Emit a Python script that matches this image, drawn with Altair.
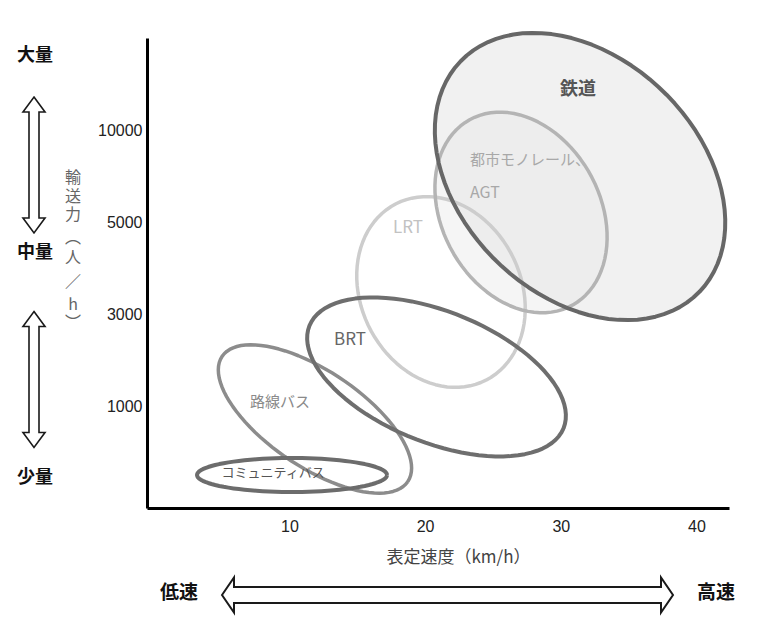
import altair as alt
import pandas as pd

# ---------------- data ----------------
modes = ["鉄道", "都市モノレール、AGT", "LRT", "BRT", "路線バス", "コミュニティバス"]
center_speed = [31.42, 27.07, 21.17, 20.84, 11.88, 10.19]      # km/h
center_level = [3.497, 3.107, 2.244, 1.322, 0.866, 0.258]      # capacity level (1=1000 ... 4=10000)
semi_major_px = [166, 106, 99, 137, 112, 95]
semi_minor_px = [119, 79, 80, 65.5, 48, 17]
tilt_deg = [44, 61, 63, 22, 34, 0]

cap_levels = [1, 2, 3, 4]
cap_labels = ["1000", "3000", "5000", "10000"]
speed_ticks = [10, 20, 30, 40]

label_texts = ["鉄道", "都市モノレール、", "AGT", "LRT", "BRT", "路線バス", "コミュニティバス"]
label_speed = [31.27, 23.31, 23.31, 18.74, 14.46, 9.30, 8.79]
label_level = [4.436, 3.676, 3.318, 2.938, 1.723, 1.05, 0.28]

y_title_chars = ["輸", "送", "力", "︵", "人", "／", "h", "︶"]

# ---------------- styles ----------------
X_DOMAIN = [-0.5, 42.4]
Y_DOMAIN = [-0.1, 5.0]
W, H = 582, 470
KX = W / (X_DOMAIN[1] - X_DOMAIN[0])
KY = H / (Y_DOMAIN[1] - Y_DOMAIN[0])

stroke_col = {"鉄道": "#676767", "都市モノレール、AGT": "#b4b4b4", "LRT": "#cdcdcd",
              "BRT": "#6e6e6e", "路線バス": "#8c8c8c", "コミュニティバス": "#6c6c6c"}
stroke_w = {"鉄道": 4, "都市モノレール、AGT": 3.5, "LRT": 3.5, "BRT": 4, "路線バス": 3.5, "コミュニティバス": 4}
fill_col = {"鉄道": "#f1f1f1", "都市モノレール、AGT": "#e9e9e9"}
fill_op = {"鉄道": 1, "都市モノレール、AGT": 0.45}
stroke_order = ["LRT", "都市モノレール、AGT", "路線バス", "コミュニティバス", "BRT", "鉄道"]

label_style = {
    "鉄道": dict(color="#555555", fontSize=18, fontWeight="bold", align="center"),
    "都市モノレール、": dict(color="#a8a8a8", fontSize=15, fontWeight="normal", align="left"),
    "AGT": dict(color="#a8a8a8", fontSize=16, fontWeight="normal", align="left"),
    "LRT": dict(color="#c2c2c2", fontSize=17, fontWeight="normal", align="center"),
    "BRT": dict(color="#666666", fontSize=17, fontWeight="normal", align="center"),
    "路線バス": dict(color="#8a8a8a", fontSize=15, fontWeight="normal", align="center"),
    "コミュニティバス": dict(color="#555555", fontSize=13, fontWeight="normal", align="center"),
}
y_title_pos = [139.5, 158.5, 177, 199.5, 219.5, 244, 267, 284.5]

JP = "Noto Sans CJK JP"

# ---------------- ellipse outlines ----------------
rows = []
for i, m in enumerate(modes):
    for t in range(0, 361, 4):
        rows.append(dict(name=m, cx=center_speed[i], cy=center_level[i],
                         a=semi_major_px[i], b=semi_minor_px[i], ang=tilt_deg[i], t=t))
ell_df = pd.DataFrame(rows)

base = alt.Chart(ell_df).transform_calculate(
    rad="datum.t*PI/180", th="datum.ang*PI/180"
).transform_calculate(
    speed=f"datum.cx + (datum.a*cos(datum.rad)*cos(datum.th) - datum.b*sin(datum.rad)*sin(datum.th))/{KX}",
    level=f"datum.cy - (datum.a*cos(datum.rad)*sin(datum.th) + datum.b*sin(datum.rad)*cos(datum.th))/{KY}",
)

label_expr = " : ".join(
    [f"datum.value == {lv} ? '{lb}'" for lv, lb in zip(cap_levels, cap_labels)]
) + " : ''"

x_enc = alt.X("speed:Q", scale=alt.Scale(domain=X_DOMAIN, nice=False, zero=False),
              axis=alt.Axis(values=speed_ticks, title="表定速度（km/h）", labelPadding=10,
                            titleX=311, titleY=49, titleAlign="center", titleBaseline="middle",
                            titleFont=JP, titleFontSize=17, titleFontWeight="normal", titleColor="#444444"))
y_enc = alt.Y("level:Q", scale=alt.Scale(domain=Y_DOMAIN, nice=False, zero=False),
              axis=alt.Axis(values=cap_levels, labelExpr=label_expr, title="", labelPadding=5))

layers = []
for m in ["鉄道", "都市モノレール、AGT"]:
    layers.append(base.transform_filter(alt.datum.name == m).mark_line(
        fill=fill_col[m], fillOpacity=fill_op[m], strokeOpacity=0, strokeWidth=0
    ).encode(x=x_enc, y=y_enc, order="t:Q"))
for m in stroke_order:
    layers.append(base.transform_filter(alt.datum.name == m).mark_line(
        stroke=stroke_col[m], strokeWidth=stroke_w[m], strokeJoin="round"
    ).encode(x=x_enc, y=y_enc, order="t:Q"))

lab_df = pd.DataFrame({"text": label_texts, "speed": label_speed, "level": label_level})
for txt in label_texts:
    st = label_style[txt]
    layers.append(alt.Chart(lab_df).transform_filter(alt.datum.text == txt).mark_text(
        font=JP, baseline="middle", **st
    ).encode(x=x_enc, y=y_enc, text="text:N"))

# ---------------- annotations outside the plot ----------------
one = pd.DataFrame({"k": [0]})


def ann_text(s, x, y, size, color="#111111", weight="bold"):
    return alt.Chart(one).mark_text(font=JP, fontSize=size, fontWeight=weight, color=color,
                                    baseline="middle", align="center").encode(
        x=alt.value(x), y=alt.value(y), text=alt.value(s))


layers += [
    ann_text("大量", -112, 18, 18),
    ann_text("中量", -112, 215, 18),
    ann_text("少量", -112, 440, 18),
    ann_text("低速", 32, 555, 19),
    ann_text("高速", 569, 555, 19),
]
for ch, yy in zip(y_title_chars, y_title_pos):
    layers.append(ann_text(ch, -74, yy, 16, color="#666666", weight="normal"))

h_arrow = ("M -1 0 L -0.9468 -0.0776 L -0.9468 -0.0355 L 0.9468 -0.0355 L 0.9468 -0.0776 "
           "L 1 0 L 0.9468 0.0776 L 0.9468 0.0355 L -0.9468 0.0355 L -0.9468 0.0776 Z")
v_arrow = ("M 0 -1 L 0.162 -0.78 L 0.0735 -0.78 L 0.0735 0.78 L 0.162 0.78 L 0 1 "
           "L -0.162 0.78 L -0.0735 0.78 L -0.0735 -0.78 L -0.162 -0.78 Z")

layers.append(alt.Chart(one).mark_point(shape=h_arrow, size=451 * 451, filled=False, opacity=1,
                                        stroke="#1a1a1a", strokeWidth=2).encode(
    x=alt.value(300.5), y=alt.value(557)))
for cy in [127, 341.5]:
    layers.append(alt.Chart(one).mark_point(shape=v_arrow, size=136 * 136, filled=False, opacity=1,
                                            stroke="#1a1a1a", strokeWidth=1.6).encode(
        x=alt.value(-113), y=alt.value(cy)))

chart = alt.layer(*layers).properties(
    width=W, height=H,
    autosize=alt.AutoSizeParams(type="none"),
    padding={"left": 139, "top": 30, "right": 21, "bottom": 112},
).configure_axis(
    labelFont="Liberation Sans", labelFontSize=16, labelColor="#222222",
    domainColor="#000000", domainWidth=3, ticks=False, grid=False,
).configure_view(strokeWidth=0)

chart.save("out.html", embed_options={"renderer": "svg", "actions": False})
